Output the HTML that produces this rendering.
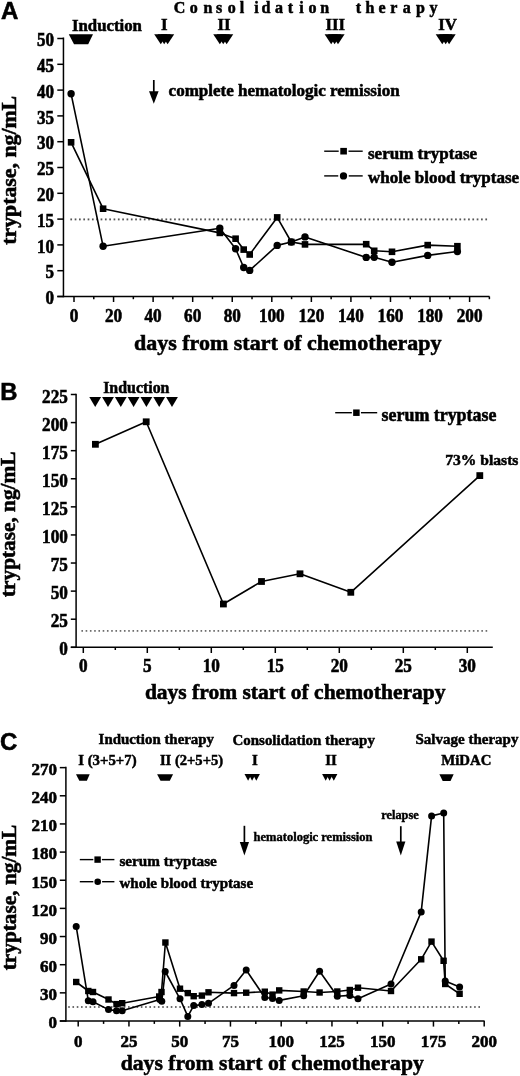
<!DOCTYPE html>
<html><head><meta charset="utf-8"><title>Tryptase figure</title>
<style>
html,body{margin:0;padding:0;background:#fff;}
body{width:520px;height:1076px;overflow:hidden;}
svg{display:block;will-change:transform;}
</style></head>
<body>
<svg width="520" height="1076" viewBox="0 0 520 1076">
<rect x="0" y="0" width="520" height="1076" fill="#fff"/>
<text x="1" y="18.7" font-family='"Liberation Sans", sans-serif' font-weight="bold" font-size="24" text-anchor="start" stroke="#000" stroke-width="0.55" >A</text>
<text x="72" y="30.8" font-family='"Liberation Serif", serif' font-weight="bold" font-size="16.8" text-anchor="start" stroke="#000" stroke-width="0.54" >Induction</text>
<text x="179.6" y="12.6" font-family='"Liberation Serif", serif' font-weight="bold" font-size="16" text-anchor="middle" stroke="#000" stroke-width="0.52" >C</text>
<text x="193.7" y="12.6" font-family='"Liberation Serif", serif' font-weight="bold" font-size="16" text-anchor="middle" stroke="#000" stroke-width="0.52" >o</text>
<text x="208" y="12.6" font-family='"Liberation Serif", serif' font-weight="bold" font-size="16" text-anchor="middle" stroke="#000" stroke-width="0.52" >n</text>
<text x="219.2" y="12.6" font-family='"Liberation Serif", serif' font-weight="bold" font-size="16" text-anchor="middle" stroke="#000" stroke-width="0.52" >s</text>
<text x="231.8" y="12.6" font-family='"Liberation Serif", serif' font-weight="bold" font-size="16" text-anchor="middle" stroke="#000" stroke-width="0.52" >o</text>
<text x="242" y="12.6" font-family='"Liberation Serif", serif' font-weight="bold" font-size="16" text-anchor="middle" stroke="#000" stroke-width="0.52" >l</text>
<text x="256.4" y="12.6" font-family='"Liberation Serif", serif' font-weight="bold" font-size="16" text-anchor="middle" stroke="#000" stroke-width="0.52" >i</text>
<text x="265.9" y="12.6" font-family='"Liberation Serif", serif' font-weight="bold" font-size="16" text-anchor="middle" stroke="#000" stroke-width="0.52" >d</text>
<text x="278.9" y="12.6" font-family='"Liberation Serif", serif' font-weight="bold" font-size="16" text-anchor="middle" stroke="#000" stroke-width="0.52" >a</text>
<text x="290.5" y="12.6" font-family='"Liberation Serif", serif' font-weight="bold" font-size="16" text-anchor="middle" stroke="#000" stroke-width="0.52" >t</text>
<text x="301.5" y="12.6" font-family='"Liberation Serif", serif' font-weight="bold" font-size="16" text-anchor="middle" stroke="#000" stroke-width="0.52" >i</text>
<text x="312.4" y="12.6" font-family='"Liberation Serif", serif' font-weight="bold" font-size="16" text-anchor="middle" stroke="#000" stroke-width="0.52" >o</text>
<text x="324.6" y="12.6" font-family='"Liberation Serif", serif' font-weight="bold" font-size="16" text-anchor="middle" stroke="#000" stroke-width="0.52" >n</text>
<text x="358.5" y="12.6" font-family='"Liberation Serif", serif' font-weight="bold" font-size="16" text-anchor="middle" stroke="#000" stroke-width="0.52" >t</text>
<text x="370" y="12.6" font-family='"Liberation Serif", serif' font-weight="bold" font-size="16" text-anchor="middle" stroke="#000" stroke-width="0.52" >h</text>
<text x="382" y="12.6" font-family='"Liberation Serif", serif' font-weight="bold" font-size="16" text-anchor="middle" stroke="#000" stroke-width="0.52" >e</text>
<text x="393.9" y="12.6" font-family='"Liberation Serif", serif' font-weight="bold" font-size="16" text-anchor="middle" stroke="#000" stroke-width="0.52" >r</text>
<text x="406.7" y="12.6" font-family='"Liberation Serif", serif' font-weight="bold" font-size="16" text-anchor="middle" stroke="#000" stroke-width="0.52" >a</text>
<text x="420.4" y="12.6" font-family='"Liberation Serif", serif' font-weight="bold" font-size="16" text-anchor="middle" stroke="#000" stroke-width="0.52" >p</text>
<text x="433.5" y="12.6" font-family='"Liberation Serif", serif' font-weight="bold" font-size="16" text-anchor="middle" stroke="#000" stroke-width="0.52" >y</text>
<text x="164.2" y="30.4" font-family='"Liberation Serif", serif' font-weight="bold" font-size="16.8" text-anchor="middle" stroke="#000" stroke-width="0.54" >I</text>
<text x="224" y="30.4" font-family='"Liberation Serif", serif' font-weight="bold" font-size="16.8" text-anchor="middle" stroke="#000" stroke-width="0.54" >II</text>
<text x="335.2" y="30.4" font-family='"Liberation Serif", serif' font-weight="bold" font-size="16.8" text-anchor="middle" stroke="#000" stroke-width="0.54" >III</text>
<text x="447.6" y="30.4" font-family='"Liberation Serif", serif' font-weight="bold" font-size="16.8" text-anchor="middle" stroke="#000" stroke-width="0.54" >IV</text>
<polygon points="68.8,34.2 93,34.2 88.2,44.3 74,44.3" fill="#000"/>
<polygon points="154.2,34.2 167.4,34.2 160.8,44.3" fill="#000"/>
<polygon points="157.6,34.2 170.8,34.2 164.2,44.3" fill="#000"/>
<polygon points="161,34.2 174.2,34.2 167.6,44.3" fill="#000"/>
<polygon points="213.25,34.2 226.45,34.2 219.85,44.3" fill="#000"/>
<polygon points="216.65,34.2 229.85,34.2 223.25,44.3" fill="#000"/>
<polygon points="220.05,34.2 233.25,34.2 226.65,44.3" fill="#000"/>
<polygon points="324.6,34.2 337.8,34.2 331.2,44.3" fill="#000"/>
<polygon points="328,34.2 341.2,34.2 334.6,44.3" fill="#000"/>
<polygon points="331.4,34.2 344.6,34.2 338,44.3" fill="#000"/>
<polygon points="435.7,34.2 448.9,34.2 442.3,44.3" fill="#000"/>
<polygon points="439.1,34.2 452.3,34.2 445.7,44.3" fill="#000"/>
<polygon points="442.5,34.2 455.7,34.2 449.1,44.3" fill="#000"/>
<line x1="63.45" y1="37.55" x2="63.45" y2="297.25" stroke="#000" stroke-width="1.5" />
<line x1="57.3" y1="296.5" x2="63.45" y2="296.5" stroke="#000" stroke-width="1.5" />
<text x="0" y="0" transform="translate(54 304.2) scale(1 1.08)" font-family='"Liberation Serif", serif' font-weight="bold" font-size="17" text-anchor="end" stroke="#000" stroke-width="0.55" >0</text>
<line x1="57.3" y1="270.7" x2="63.45" y2="270.7" stroke="#000" stroke-width="1.5" />
<text x="0" y="0" transform="translate(54 278.4) scale(1 1.08)" font-family='"Liberation Serif", serif' font-weight="bold" font-size="17" text-anchor="end" stroke="#000" stroke-width="0.55" >5</text>
<line x1="57.3" y1="244.9" x2="63.45" y2="244.9" stroke="#000" stroke-width="1.5" />
<text x="0" y="0" transform="translate(54 252.6) scale(1 1.08)" font-family='"Liberation Serif", serif' font-weight="bold" font-size="17" text-anchor="end" stroke="#000" stroke-width="0.55" >10</text>
<line x1="57.3" y1="219.1" x2="63.45" y2="219.1" stroke="#000" stroke-width="1.5" />
<text x="0" y="0" transform="translate(54 226.8) scale(1 1.08)" font-family='"Liberation Serif", serif' font-weight="bold" font-size="17" text-anchor="end" stroke="#000" stroke-width="0.55" >15</text>
<line x1="57.3" y1="193.3" x2="63.45" y2="193.3" stroke="#000" stroke-width="1.5" />
<text x="0" y="0" transform="translate(54 201) scale(1 1.08)" font-family='"Liberation Serif", serif' font-weight="bold" font-size="17" text-anchor="end" stroke="#000" stroke-width="0.55" >20</text>
<line x1="57.3" y1="167.5" x2="63.45" y2="167.5" stroke="#000" stroke-width="1.5" />
<text x="0" y="0" transform="translate(54 175.2) scale(1 1.08)" font-family='"Liberation Serif", serif' font-weight="bold" font-size="17" text-anchor="end" stroke="#000" stroke-width="0.55" >25</text>
<line x1="57.3" y1="141.7" x2="63.45" y2="141.7" stroke="#000" stroke-width="1.5" />
<text x="0" y="0" transform="translate(54 149.4) scale(1 1.08)" font-family='"Liberation Serif", serif' font-weight="bold" font-size="17" text-anchor="end" stroke="#000" stroke-width="0.55" >30</text>
<line x1="57.3" y1="115.9" x2="63.45" y2="115.9" stroke="#000" stroke-width="1.5" />
<text x="0" y="0" transform="translate(54 123.6) scale(1 1.08)" font-family='"Liberation Serif", serif' font-weight="bold" font-size="17" text-anchor="end" stroke="#000" stroke-width="0.55" >35</text>
<line x1="57.3" y1="90.1" x2="63.45" y2="90.1" stroke="#000" stroke-width="1.5" />
<text x="0" y="0" transform="translate(54 97.8) scale(1 1.08)" font-family='"Liberation Serif", serif' font-weight="bold" font-size="17" text-anchor="end" stroke="#000" stroke-width="0.55" >40</text>
<line x1="57.3" y1="64.3" x2="63.45" y2="64.3" stroke="#000" stroke-width="1.5" />
<text x="0" y="0" transform="translate(54 72) scale(1 1.08)" font-family='"Liberation Serif", serif' font-weight="bold" font-size="17" text-anchor="end" stroke="#000" stroke-width="0.55" >45</text>
<line x1="57.3" y1="38.5" x2="63.45" y2="38.5" stroke="#000" stroke-width="1.5" />
<text x="0" y="0" transform="translate(54 46.2) scale(1 1.08)" font-family='"Liberation Serif", serif' font-weight="bold" font-size="17" text-anchor="end" stroke="#000" stroke-width="0.55" >50</text>
<line x1="57.3" y1="296.5" x2="489.5" y2="296.5" stroke="#000" stroke-width="1.5" />
<line x1="74" y1="296.5" x2="74" y2="302" stroke="#000" stroke-width="1.5" />
<line x1="93.78" y1="296.5" x2="93.78" y2="299.2" stroke="#000" stroke-width="1.5" />
<line x1="113.56" y1="296.5" x2="113.56" y2="302" stroke="#000" stroke-width="1.5" />
<line x1="133.34" y1="296.5" x2="133.34" y2="299.2" stroke="#000" stroke-width="1.5" />
<line x1="153.12" y1="296.5" x2="153.12" y2="302" stroke="#000" stroke-width="1.5" />
<line x1="172.9" y1="296.5" x2="172.9" y2="299.2" stroke="#000" stroke-width="1.5" />
<line x1="192.68" y1="296.5" x2="192.68" y2="302" stroke="#000" stroke-width="1.5" />
<line x1="212.46" y1="296.5" x2="212.46" y2="299.2" stroke="#000" stroke-width="1.5" />
<line x1="232.24" y1="296.5" x2="232.24" y2="302" stroke="#000" stroke-width="1.5" />
<line x1="252.02" y1="296.5" x2="252.02" y2="299.2" stroke="#000" stroke-width="1.5" />
<line x1="271.8" y1="296.5" x2="271.8" y2="302" stroke="#000" stroke-width="1.5" />
<line x1="291.58" y1="296.5" x2="291.58" y2="299.2" stroke="#000" stroke-width="1.5" />
<line x1="311.36" y1="296.5" x2="311.36" y2="302" stroke="#000" stroke-width="1.5" />
<line x1="331.14" y1="296.5" x2="331.14" y2="299.2" stroke="#000" stroke-width="1.5" />
<line x1="350.92" y1="296.5" x2="350.92" y2="302" stroke="#000" stroke-width="1.5" />
<line x1="370.7" y1="296.5" x2="370.7" y2="299.2" stroke="#000" stroke-width="1.5" />
<line x1="390.48" y1="296.5" x2="390.48" y2="302" stroke="#000" stroke-width="1.5" />
<line x1="410.26" y1="296.5" x2="410.26" y2="299.2" stroke="#000" stroke-width="1.5" />
<line x1="430.04" y1="296.5" x2="430.04" y2="302" stroke="#000" stroke-width="1.5" />
<line x1="449.82" y1="296.5" x2="449.82" y2="299.2" stroke="#000" stroke-width="1.5" />
<line x1="469.6" y1="296.5" x2="469.6" y2="302" stroke="#000" stroke-width="1.5" />
<line x1="489.38" y1="296.5" x2="489.38" y2="299.2" stroke="#000" stroke-width="1.5" />
<text x="0" y="0" transform="translate(74 322) scale(1 1.05)" font-family='"Liberation Serif", serif' font-weight="bold" font-size="17.2" text-anchor="middle" stroke="#000" stroke-width="0.55" >0</text>
<text x="0" y="0" transform="translate(113.56 322) scale(1 1.05)" font-family='"Liberation Serif", serif' font-weight="bold" font-size="17.2" text-anchor="middle" stroke="#000" stroke-width="0.55" >20</text>
<text x="0" y="0" transform="translate(153.12 322) scale(1 1.05)" font-family='"Liberation Serif", serif' font-weight="bold" font-size="17.2" text-anchor="middle" stroke="#000" stroke-width="0.55" >40</text>
<text x="0" y="0" transform="translate(192.68 322) scale(1 1.05)" font-family='"Liberation Serif", serif' font-weight="bold" font-size="17.2" text-anchor="middle" stroke="#000" stroke-width="0.55" >60</text>
<text x="0" y="0" transform="translate(232.24 322) scale(1 1.05)" font-family='"Liberation Serif", serif' font-weight="bold" font-size="17.2" text-anchor="middle" stroke="#000" stroke-width="0.55" >80</text>
<text x="0" y="0" transform="translate(271.8 322) scale(1 1.05)" font-family='"Liberation Serif", serif' font-weight="bold" font-size="17.2" text-anchor="middle" stroke="#000" stroke-width="0.55" >100</text>
<text x="0" y="0" transform="translate(311.36 322) scale(1 1.05)" font-family='"Liberation Serif", serif' font-weight="bold" font-size="17.2" text-anchor="middle" stroke="#000" stroke-width="0.55" >120</text>
<text x="0" y="0" transform="translate(350.92 322) scale(1 1.05)" font-family='"Liberation Serif", serif' font-weight="bold" font-size="17.2" text-anchor="middle" stroke="#000" stroke-width="0.55" >140</text>
<text x="0" y="0" transform="translate(390.48 322) scale(1 1.05)" font-family='"Liberation Serif", serif' font-weight="bold" font-size="17.2" text-anchor="middle" stroke="#000" stroke-width="0.55" >160</text>
<text x="0" y="0" transform="translate(430.04 322) scale(1 1.05)" font-family='"Liberation Serif", serif' font-weight="bold" font-size="17.2" text-anchor="middle" stroke="#000" stroke-width="0.55" >180</text>
<text x="0" y="0" transform="translate(469.6 322) scale(1 1.05)" font-family='"Liberation Serif", serif' font-weight="bold" font-size="17.2" text-anchor="middle" stroke="#000" stroke-width="0.55" >200</text>
<text x="287.7" y="349.7" font-family='"Liberation Serif", serif' font-weight="bold" font-size="22" text-anchor="middle" stroke="#000" stroke-width="0.55" >days from start of chemotherapy</text>
<text x="15.6" y="170.3" font-family='"Liberation Serif", serif' font-weight="bold" font-size="21.8" text-anchor="middle" stroke="#000" stroke-width="0.55" transform="rotate(-90 15.6 170.3)">tryptase, ng/mL</text>
<rect x="70.35" y="218.45" width="1.7" height="1.9" fill="#555"/>
<rect x="74.67" y="218.45" width="1.7" height="1.9" fill="#555"/>
<rect x="79" y="218.45" width="1.7" height="1.9" fill="#555"/>
<rect x="83.32" y="218.45" width="1.7" height="1.9" fill="#555"/>
<rect x="87.64" y="218.45" width="1.7" height="1.9" fill="#555"/>
<rect x="91.96" y="218.45" width="1.7" height="1.9" fill="#555"/>
<rect x="96.29" y="218.45" width="1.7" height="1.9" fill="#555"/>
<rect x="100.61" y="218.45" width="1.7" height="1.9" fill="#555"/>
<rect x="104.93" y="218.45" width="1.7" height="1.9" fill="#555"/>
<rect x="109.26" y="218.45" width="1.7" height="1.9" fill="#555"/>
<rect x="113.58" y="218.45" width="1.7" height="1.9" fill="#555"/>
<rect x="117.9" y="218.45" width="1.7" height="1.9" fill="#555"/>
<rect x="122.23" y="218.45" width="1.7" height="1.9" fill="#555"/>
<rect x="126.55" y="218.45" width="1.7" height="1.9" fill="#555"/>
<rect x="130.87" y="218.45" width="1.7" height="1.9" fill="#555"/>
<rect x="135.19" y="218.45" width="1.7" height="1.9" fill="#555"/>
<rect x="139.52" y="218.45" width="1.7" height="1.9" fill="#555"/>
<rect x="143.84" y="218.45" width="1.7" height="1.9" fill="#555"/>
<rect x="148.16" y="218.45" width="1.7" height="1.9" fill="#555"/>
<rect x="152.49" y="218.45" width="1.7" height="1.9" fill="#555"/>
<rect x="156.81" y="218.45" width="1.7" height="1.9" fill="#555"/>
<rect x="161.13" y="218.45" width="1.7" height="1.9" fill="#555"/>
<rect x="165.45" y="218.45" width="1.7" height="1.9" fill="#555"/>
<rect x="169.78" y="218.45" width="1.7" height="1.9" fill="#555"/>
<rect x="174.1" y="218.45" width="1.7" height="1.9" fill="#555"/>
<rect x="178.42" y="218.45" width="1.7" height="1.9" fill="#555"/>
<rect x="182.75" y="218.45" width="1.7" height="1.9" fill="#555"/>
<rect x="187.07" y="218.45" width="1.7" height="1.9" fill="#555"/>
<rect x="191.39" y="218.45" width="1.7" height="1.9" fill="#555"/>
<rect x="195.71" y="218.45" width="1.7" height="1.9" fill="#555"/>
<rect x="200.04" y="218.45" width="1.7" height="1.9" fill="#555"/>
<rect x="204.36" y="218.45" width="1.7" height="1.9" fill="#555"/>
<rect x="208.68" y="218.45" width="1.7" height="1.9" fill="#555"/>
<rect x="213.01" y="218.45" width="1.7" height="1.9" fill="#555"/>
<rect x="217.33" y="218.45" width="1.7" height="1.9" fill="#555"/>
<rect x="221.65" y="218.45" width="1.7" height="1.9" fill="#555"/>
<rect x="225.97" y="218.45" width="1.7" height="1.9" fill="#555"/>
<rect x="230.3" y="218.45" width="1.7" height="1.9" fill="#555"/>
<rect x="234.62" y="218.45" width="1.7" height="1.9" fill="#555"/>
<rect x="238.94" y="218.45" width="1.7" height="1.9" fill="#555"/>
<rect x="243.27" y="218.45" width="1.7" height="1.9" fill="#555"/>
<rect x="247.59" y="218.45" width="1.7" height="1.9" fill="#555"/>
<rect x="251.91" y="218.45" width="1.7" height="1.9" fill="#555"/>
<rect x="256.24" y="218.45" width="1.7" height="1.9" fill="#555"/>
<rect x="260.56" y="218.45" width="1.7" height="1.9" fill="#555"/>
<rect x="264.88" y="218.45" width="1.7" height="1.9" fill="#555"/>
<rect x="269.2" y="218.45" width="1.7" height="1.9" fill="#555"/>
<rect x="273.53" y="218.45" width="1.7" height="1.9" fill="#555"/>
<rect x="277.85" y="218.45" width="1.7" height="1.9" fill="#555"/>
<rect x="282.17" y="218.45" width="1.7" height="1.9" fill="#555"/>
<rect x="286.5" y="218.45" width="1.7" height="1.9" fill="#555"/>
<rect x="290.82" y="218.45" width="1.7" height="1.9" fill="#555"/>
<rect x="295.14" y="218.45" width="1.7" height="1.9" fill="#555"/>
<rect x="299.46" y="218.45" width="1.7" height="1.9" fill="#555"/>
<rect x="303.79" y="218.45" width="1.7" height="1.9" fill="#555"/>
<rect x="308.11" y="218.45" width="1.7" height="1.9" fill="#555"/>
<rect x="312.43" y="218.45" width="1.7" height="1.9" fill="#555"/>
<rect x="316.76" y="218.45" width="1.7" height="1.9" fill="#555"/>
<rect x="321.08" y="218.45" width="1.7" height="1.9" fill="#555"/>
<rect x="325.4" y="218.45" width="1.7" height="1.9" fill="#555"/>
<rect x="329.72" y="218.45" width="1.7" height="1.9" fill="#555"/>
<rect x="334.05" y="218.45" width="1.7" height="1.9" fill="#555"/>
<rect x="338.37" y="218.45" width="1.7" height="1.9" fill="#555"/>
<rect x="342.69" y="218.45" width="1.7" height="1.9" fill="#555"/>
<rect x="347.02" y="218.45" width="1.7" height="1.9" fill="#555"/>
<rect x="351.34" y="218.45" width="1.7" height="1.9" fill="#555"/>
<rect x="355.66" y="218.45" width="1.7" height="1.9" fill="#555"/>
<rect x="359.99" y="218.45" width="1.7" height="1.9" fill="#555"/>
<rect x="364.31" y="218.45" width="1.7" height="1.9" fill="#555"/>
<rect x="368.63" y="218.45" width="1.7" height="1.9" fill="#555"/>
<rect x="372.95" y="218.45" width="1.7" height="1.9" fill="#555"/>
<rect x="377.28" y="218.45" width="1.7" height="1.9" fill="#555"/>
<rect x="381.6" y="218.45" width="1.7" height="1.9" fill="#555"/>
<rect x="385.92" y="218.45" width="1.7" height="1.9" fill="#555"/>
<rect x="390.25" y="218.45" width="1.7" height="1.9" fill="#555"/>
<rect x="394.57" y="218.45" width="1.7" height="1.9" fill="#555"/>
<rect x="398.89" y="218.45" width="1.7" height="1.9" fill="#555"/>
<rect x="403.21" y="218.45" width="1.7" height="1.9" fill="#555"/>
<rect x="407.54" y="218.45" width="1.7" height="1.9" fill="#555"/>
<rect x="411.86" y="218.45" width="1.7" height="1.9" fill="#555"/>
<rect x="416.18" y="218.45" width="1.7" height="1.9" fill="#555"/>
<rect x="420.51" y="218.45" width="1.7" height="1.9" fill="#555"/>
<rect x="424.83" y="218.45" width="1.7" height="1.9" fill="#555"/>
<rect x="429.15" y="218.45" width="1.7" height="1.9" fill="#555"/>
<rect x="433.47" y="218.45" width="1.7" height="1.9" fill="#555"/>
<rect x="437.8" y="218.45" width="1.7" height="1.9" fill="#555"/>
<rect x="442.12" y="218.45" width="1.7" height="1.9" fill="#555"/>
<rect x="446.44" y="218.45" width="1.7" height="1.9" fill="#555"/>
<rect x="450.77" y="218.45" width="1.7" height="1.9" fill="#555"/>
<rect x="455.09" y="218.45" width="1.7" height="1.9" fill="#555"/>
<rect x="459.41" y="218.45" width="1.7" height="1.9" fill="#555"/>
<rect x="463.74" y="218.45" width="1.7" height="1.9" fill="#555"/>
<rect x="468.06" y="218.45" width="1.7" height="1.9" fill="#555"/>
<rect x="472.38" y="218.45" width="1.7" height="1.9" fill="#555"/>
<rect x="476.7" y="218.45" width="1.7" height="1.9" fill="#555"/>
<rect x="481.03" y="218.45" width="1.7" height="1.9" fill="#555"/>
<rect x="485.35" y="218.45" width="1.7" height="1.9" fill="#555"/>
<line x1="324.2" y1="151.2" x2="338.7" y2="151.2" stroke="#000" stroke-width="1.4" />
<line x1="348.5" y1="151.2" x2="362.7" y2="151.2" stroke="#000" stroke-width="1.4" />
<rect x="340.3" y="147.9" width="6.6" height="6.6" fill="#000"/>
<text x="368" y="158.8" font-family='"Liberation Serif", serif' font-weight="bold" font-size="17" text-anchor="start" stroke="#000" stroke-width="0.55" >serum tryptase</text>
<line x1="324.2" y1="175.9" x2="338.25" y2="175.9" stroke="#000" stroke-width="1.4" />
<line x1="348.75" y1="175.9" x2="362.7" y2="175.9" stroke="#000" stroke-width="1.4" />
<circle cx="343.5" cy="175.9" r="3.65" fill="#000"/>
<text x="368" y="182.7" font-family='"Liberation Serif", serif' font-weight="bold" font-size="17" text-anchor="start" stroke="#000" stroke-width="0.55" >whole blood tryptase</text>
<line x1="153.8" y1="80" x2="153.8" y2="92.3" stroke="#000" stroke-width="1.7" />
<polygon points="149,91.3 158.6,91.3 153.8,103.8" fill="#000"/>
<text x="168.6" y="95.8" font-family='"Liberation Serif", serif' font-weight="bold" font-size="17" text-anchor="start" stroke="#000" stroke-width="0.55" >complete hematologic remission</text>
<polyline points="71.1,142.3 103.1,208.7 219.8,232.9 235.6,238.7 243.7,249.6 249.7,254.5 277.2,217.4 291.3,242 305,244.4 366.2,244.2 374.2,250.8 392,251.8 427.7,245.1 457.4,246.2" fill="none" stroke="#000" stroke-width="1.6" stroke-linejoin="round"/>
<polyline points="71.1,93.8 103.1,246.3 219.8,228.3 235.6,248.7 243.7,267.5 249.7,270.4 277.2,245.4 291.3,242 305,236.9 366.2,257.4 374.2,257.2 392,262.3 427.7,255.4 457.4,251.5" fill="none" stroke="#000" stroke-width="1.6" stroke-linejoin="round"/>
<circle cx="71.1" cy="93.8" r="3.7" fill="#000"/>
<circle cx="103.1" cy="246.3" r="3.7" fill="#000"/>
<circle cx="219.8" cy="228.3" r="3.7" fill="#000"/>
<circle cx="235.6" cy="248.7" r="3.7" fill="#000"/>
<circle cx="243.7" cy="267.5" r="3.7" fill="#000"/>
<circle cx="249.7" cy="270.4" r="3.7" fill="#000"/>
<circle cx="277.2" cy="245.4" r="3.7" fill="#000"/>
<circle cx="291.3" cy="242" r="3.7" fill="#000"/>
<circle cx="305" cy="236.9" r="3.7" fill="#000"/>
<circle cx="366.2" cy="257.4" r="3.7" fill="#000"/>
<circle cx="374.2" cy="257.2" r="3.7" fill="#000"/>
<circle cx="392" cy="262.3" r="3.7" fill="#000"/>
<circle cx="427.7" cy="255.4" r="3.7" fill="#000"/>
<circle cx="457.4" cy="251.5" r="3.7" fill="#000"/>
<rect x="67.8" y="139" width="6.6" height="6.6" fill="#000"/>
<rect x="99.8" y="205.4" width="6.6" height="6.6" fill="#000"/>
<rect x="216.5" y="229.6" width="6.6" height="6.6" fill="#000"/>
<rect x="232.3" y="235.4" width="6.6" height="6.6" fill="#000"/>
<rect x="240.4" y="246.3" width="6.6" height="6.6" fill="#000"/>
<rect x="246.4" y="251.2" width="6.6" height="6.6" fill="#000"/>
<rect x="273.9" y="214.1" width="6.6" height="6.6" fill="#000"/>
<rect x="288" y="238.7" width="6.6" height="6.6" fill="#000"/>
<rect x="301.7" y="241.1" width="6.6" height="6.6" fill="#000"/>
<rect x="362.9" y="240.9" width="6.6" height="6.6" fill="#000"/>
<rect x="370.9" y="247.5" width="6.6" height="6.6" fill="#000"/>
<rect x="388.7" y="248.5" width="6.6" height="6.6" fill="#000"/>
<rect x="424.4" y="241.8" width="6.6" height="6.6" fill="#000"/>
<rect x="454.1" y="242.9" width="6.6" height="6.6" fill="#000"/>
<text x="0.2" y="399.8" font-family='"Liberation Sans", sans-serif' font-weight="bold" font-size="23.8" text-anchor="start" stroke="#000" stroke-width="0.55" >B</text>
<text x="103.2" y="392.8" font-family='"Liberation Serif", serif' font-weight="bold" font-size="15.9" text-anchor="start" stroke="#000" stroke-width="0.51" >Induction</text>
<polygon points="89.3,396.9 101.1,396.9 95.2,407" fill="#000"/>
<polygon points="102.1,396.9 113.9,396.9 108,407" fill="#000"/>
<polygon points="114.9,396.9 126.7,396.9 120.8,407" fill="#000"/>
<polygon points="127.7,396.9 139.5,396.9 133.6,407" fill="#000"/>
<polygon points="140.5,396.9 152.3,396.9 146.4,407" fill="#000"/>
<polygon points="153.3,396.9 165.1,396.9 159.2,407" fill="#000"/>
<polygon points="166.1,396.9 177.9,396.9 172,407" fill="#000"/>
<line x1="76.1" y1="393.85" x2="76.1" y2="648.05" stroke="#000" stroke-width="1.5" />
<line x1="70.8" y1="647.3" x2="76.1" y2="647.3" stroke="#000" stroke-width="1.5" />
<text x="0" y="0" transform="translate(67.9 655.4) scale(1 1.05)" font-family='"Liberation Serif", serif' font-weight="bold" font-size="17.2" text-anchor="end" stroke="#000" stroke-width="0.55" >0</text>
<line x1="70.8" y1="619.21" x2="76.1" y2="619.21" stroke="#000" stroke-width="1.5" />
<text x="0" y="0" transform="translate(67.9 627.31) scale(1 1.05)" font-family='"Liberation Serif", serif' font-weight="bold" font-size="17.2" text-anchor="end" stroke="#000" stroke-width="0.55" >25</text>
<line x1="70.8" y1="591.12" x2="76.1" y2="591.12" stroke="#000" stroke-width="1.5" />
<text x="0" y="0" transform="translate(67.9 599.22) scale(1 1.05)" font-family='"Liberation Serif", serif' font-weight="bold" font-size="17.2" text-anchor="end" stroke="#000" stroke-width="0.55" >50</text>
<line x1="70.8" y1="563.03" x2="76.1" y2="563.03" stroke="#000" stroke-width="1.5" />
<text x="0" y="0" transform="translate(67.9 571.13) scale(1 1.05)" font-family='"Liberation Serif", serif' font-weight="bold" font-size="17.2" text-anchor="end" stroke="#000" stroke-width="0.55" >75</text>
<line x1="70.8" y1="534.94" x2="76.1" y2="534.94" stroke="#000" stroke-width="1.5" />
<text x="0" y="0" transform="translate(67.9 543.04) scale(1 1.05)" font-family='"Liberation Serif", serif' font-weight="bold" font-size="17.2" text-anchor="end" stroke="#000" stroke-width="0.55" >100</text>
<line x1="70.8" y1="506.85" x2="76.1" y2="506.85" stroke="#000" stroke-width="1.5" />
<text x="0" y="0" transform="translate(67.9 514.95) scale(1 1.05)" font-family='"Liberation Serif", serif' font-weight="bold" font-size="17.2" text-anchor="end" stroke="#000" stroke-width="0.55" >125</text>
<line x1="70.8" y1="478.76" x2="76.1" y2="478.76" stroke="#000" stroke-width="1.5" />
<text x="0" y="0" transform="translate(67.9 486.86) scale(1 1.05)" font-family='"Liberation Serif", serif' font-weight="bold" font-size="17.2" text-anchor="end" stroke="#000" stroke-width="0.55" >150</text>
<line x1="70.8" y1="450.67" x2="76.1" y2="450.67" stroke="#000" stroke-width="1.5" />
<text x="0" y="0" transform="translate(67.9 458.77) scale(1 1.05)" font-family='"Liberation Serif", serif' font-weight="bold" font-size="17.2" text-anchor="end" stroke="#000" stroke-width="0.55" >175</text>
<line x1="70.8" y1="422.58" x2="76.1" y2="422.58" stroke="#000" stroke-width="1.5" />
<text x="0" y="0" transform="translate(67.9 430.68) scale(1 1.05)" font-family='"Liberation Serif", serif' font-weight="bold" font-size="17.2" text-anchor="end" stroke="#000" stroke-width="0.55" >200</text>
<line x1="70.8" y1="394.49" x2="76.1" y2="394.49" stroke="#000" stroke-width="1.5" />
<text x="0" y="0" transform="translate(67.9 402.59) scale(1 1.05)" font-family='"Liberation Serif", serif' font-weight="bold" font-size="17.2" text-anchor="end" stroke="#000" stroke-width="0.55" >225</text>
<line x1="70.8" y1="647.3" x2="492.8" y2="647.3" stroke="#000" stroke-width="1.5" />
<line x1="83.3" y1="647.3" x2="83.3" y2="653" stroke="#000" stroke-width="1.5" />
<line x1="115.3" y1="647.3" x2="115.3" y2="650" stroke="#000" stroke-width="1.5" />
<line x1="147.3" y1="647.3" x2="147.3" y2="653" stroke="#000" stroke-width="1.5" />
<line x1="179.3" y1="647.3" x2="179.3" y2="650" stroke="#000" stroke-width="1.5" />
<line x1="211.3" y1="647.3" x2="211.3" y2="653" stroke="#000" stroke-width="1.5" />
<line x1="243.3" y1="647.3" x2="243.3" y2="650" stroke="#000" stroke-width="1.5" />
<line x1="275.3" y1="647.3" x2="275.3" y2="653" stroke="#000" stroke-width="1.5" />
<line x1="307.3" y1="647.3" x2="307.3" y2="650" stroke="#000" stroke-width="1.5" />
<line x1="339.3" y1="647.3" x2="339.3" y2="653" stroke="#000" stroke-width="1.5" />
<line x1="371.3" y1="647.3" x2="371.3" y2="650" stroke="#000" stroke-width="1.5" />
<line x1="403.3" y1="647.3" x2="403.3" y2="653" stroke="#000" stroke-width="1.5" />
<line x1="435.3" y1="647.3" x2="435.3" y2="650" stroke="#000" stroke-width="1.5" />
<line x1="467.3" y1="647.3" x2="467.3" y2="653" stroke="#000" stroke-width="1.5" />
<text x="0" y="0" transform="translate(83.3 672) scale(1 1.05)" font-family='"Liberation Serif", serif' font-weight="bold" font-size="17.2" text-anchor="middle" stroke="#000" stroke-width="0.55" >0</text>
<text x="0" y="0" transform="translate(147.3 672) scale(1 1.05)" font-family='"Liberation Serif", serif' font-weight="bold" font-size="17.2" text-anchor="middle" stroke="#000" stroke-width="0.55" >5</text>
<text x="0" y="0" transform="translate(211.3 672) scale(1 1.05)" font-family='"Liberation Serif", serif' font-weight="bold" font-size="17.2" text-anchor="middle" stroke="#000" stroke-width="0.55" >10</text>
<text x="0" y="0" transform="translate(275.3 672) scale(1 1.05)" font-family='"Liberation Serif", serif' font-weight="bold" font-size="17.2" text-anchor="middle" stroke="#000" stroke-width="0.55" >15</text>
<text x="0" y="0" transform="translate(339.3 672) scale(1 1.05)" font-family='"Liberation Serif", serif' font-weight="bold" font-size="17.2" text-anchor="middle" stroke="#000" stroke-width="0.55" >20</text>
<text x="0" y="0" transform="translate(403.3 672) scale(1 1.05)" font-family='"Liberation Serif", serif' font-weight="bold" font-size="17.2" text-anchor="middle" stroke="#000" stroke-width="0.55" >25</text>
<text x="0" y="0" transform="translate(467.3 672) scale(1 1.05)" font-family='"Liberation Serif", serif' font-weight="bold" font-size="17.2" text-anchor="middle" stroke="#000" stroke-width="0.55" >30</text>
<text x="295.2" y="698.8" font-family='"Liberation Serif", serif' font-weight="bold" font-size="21.5" text-anchor="middle" stroke="#000" stroke-width="0.55" >days from start of chemotherapy</text>
<text x="15.4" y="524.3" font-family='"Liberation Serif", serif' font-weight="bold" font-size="21.3" text-anchor="middle" stroke="#000" stroke-width="0.55" transform="rotate(-90 15.4 524.3)">tryptase, ng/mL</text>
<rect x="81.4" y="630.05" width="1.6" height="1.7" fill="#666"/>
<rect x="85.65" y="630.05" width="1.6" height="1.7" fill="#666"/>
<rect x="89.91" y="630.05" width="1.6" height="1.7" fill="#666"/>
<rect x="94.16" y="630.05" width="1.6" height="1.7" fill="#666"/>
<rect x="98.42" y="630.05" width="1.6" height="1.7" fill="#666"/>
<rect x="102.67" y="630.05" width="1.6" height="1.7" fill="#666"/>
<rect x="106.93" y="630.05" width="1.6" height="1.7" fill="#666"/>
<rect x="111.18" y="630.05" width="1.6" height="1.7" fill="#666"/>
<rect x="115.44" y="630.05" width="1.6" height="1.7" fill="#666"/>
<rect x="119.69" y="630.05" width="1.6" height="1.7" fill="#666"/>
<rect x="123.95" y="630.05" width="1.6" height="1.7" fill="#666"/>
<rect x="128.2" y="630.05" width="1.6" height="1.7" fill="#666"/>
<rect x="132.46" y="630.05" width="1.6" height="1.7" fill="#666"/>
<rect x="136.71" y="630.05" width="1.6" height="1.7" fill="#666"/>
<rect x="140.97" y="630.05" width="1.6" height="1.7" fill="#666"/>
<rect x="145.22" y="630.05" width="1.6" height="1.7" fill="#666"/>
<rect x="149.48" y="630.05" width="1.6" height="1.7" fill="#666"/>
<rect x="153.73" y="630.05" width="1.6" height="1.7" fill="#666"/>
<rect x="157.99" y="630.05" width="1.6" height="1.7" fill="#666"/>
<rect x="162.24" y="630.05" width="1.6" height="1.7" fill="#666"/>
<rect x="166.49" y="630.05" width="1.6" height="1.7" fill="#666"/>
<rect x="170.75" y="630.05" width="1.6" height="1.7" fill="#666"/>
<rect x="175" y="630.05" width="1.6" height="1.7" fill="#666"/>
<rect x="179.26" y="630.05" width="1.6" height="1.7" fill="#666"/>
<rect x="183.51" y="630.05" width="1.6" height="1.7" fill="#666"/>
<rect x="187.77" y="630.05" width="1.6" height="1.7" fill="#666"/>
<rect x="192.02" y="630.05" width="1.6" height="1.7" fill="#666"/>
<rect x="196.28" y="630.05" width="1.6" height="1.7" fill="#666"/>
<rect x="200.53" y="630.05" width="1.6" height="1.7" fill="#666"/>
<rect x="204.79" y="630.05" width="1.6" height="1.7" fill="#666"/>
<rect x="209.04" y="630.05" width="1.6" height="1.7" fill="#666"/>
<rect x="213.3" y="630.05" width="1.6" height="1.7" fill="#666"/>
<rect x="217.55" y="630.05" width="1.6" height="1.7" fill="#666"/>
<rect x="221.81" y="630.05" width="1.6" height="1.7" fill="#666"/>
<rect x="226.06" y="630.05" width="1.6" height="1.7" fill="#666"/>
<rect x="230.32" y="630.05" width="1.6" height="1.7" fill="#666"/>
<rect x="234.57" y="630.05" width="1.6" height="1.7" fill="#666"/>
<rect x="238.83" y="630.05" width="1.6" height="1.7" fill="#666"/>
<rect x="243.08" y="630.05" width="1.6" height="1.7" fill="#666"/>
<rect x="247.33" y="630.05" width="1.6" height="1.7" fill="#666"/>
<rect x="251.59" y="630.05" width="1.6" height="1.7" fill="#666"/>
<rect x="255.84" y="630.05" width="1.6" height="1.7" fill="#666"/>
<rect x="260.1" y="630.05" width="1.6" height="1.7" fill="#666"/>
<rect x="264.35" y="630.05" width="1.6" height="1.7" fill="#666"/>
<rect x="268.61" y="630.05" width="1.6" height="1.7" fill="#666"/>
<rect x="272.86" y="630.05" width="1.6" height="1.7" fill="#666"/>
<rect x="277.12" y="630.05" width="1.6" height="1.7" fill="#666"/>
<rect x="281.37" y="630.05" width="1.6" height="1.7" fill="#666"/>
<rect x="285.63" y="630.05" width="1.6" height="1.7" fill="#666"/>
<rect x="289.88" y="630.05" width="1.6" height="1.7" fill="#666"/>
<rect x="294.14" y="630.05" width="1.6" height="1.7" fill="#666"/>
<rect x="298.39" y="630.05" width="1.6" height="1.7" fill="#666"/>
<rect x="302.65" y="630.05" width="1.6" height="1.7" fill="#666"/>
<rect x="306.9" y="630.05" width="1.6" height="1.7" fill="#666"/>
<rect x="311.16" y="630.05" width="1.6" height="1.7" fill="#666"/>
<rect x="315.41" y="630.05" width="1.6" height="1.7" fill="#666"/>
<rect x="319.67" y="630.05" width="1.6" height="1.7" fill="#666"/>
<rect x="323.92" y="630.05" width="1.6" height="1.7" fill="#666"/>
<rect x="328.17" y="630.05" width="1.6" height="1.7" fill="#666"/>
<rect x="332.43" y="630.05" width="1.6" height="1.7" fill="#666"/>
<rect x="336.68" y="630.05" width="1.6" height="1.7" fill="#666"/>
<rect x="340.94" y="630.05" width="1.6" height="1.7" fill="#666"/>
<rect x="345.19" y="630.05" width="1.6" height="1.7" fill="#666"/>
<rect x="349.45" y="630.05" width="1.6" height="1.7" fill="#666"/>
<rect x="353.7" y="630.05" width="1.6" height="1.7" fill="#666"/>
<rect x="357.96" y="630.05" width="1.6" height="1.7" fill="#666"/>
<rect x="362.21" y="630.05" width="1.6" height="1.7" fill="#666"/>
<rect x="366.47" y="630.05" width="1.6" height="1.7" fill="#666"/>
<rect x="370.72" y="630.05" width="1.6" height="1.7" fill="#666"/>
<rect x="374.98" y="630.05" width="1.6" height="1.7" fill="#666"/>
<rect x="379.23" y="630.05" width="1.6" height="1.7" fill="#666"/>
<rect x="383.49" y="630.05" width="1.6" height="1.7" fill="#666"/>
<rect x="387.74" y="630.05" width="1.6" height="1.7" fill="#666"/>
<rect x="392" y="630.05" width="1.6" height="1.7" fill="#666"/>
<rect x="396.25" y="630.05" width="1.6" height="1.7" fill="#666"/>
<rect x="400.51" y="630.05" width="1.6" height="1.7" fill="#666"/>
<rect x="404.76" y="630.05" width="1.6" height="1.7" fill="#666"/>
<rect x="409.01" y="630.05" width="1.6" height="1.7" fill="#666"/>
<rect x="413.27" y="630.05" width="1.6" height="1.7" fill="#666"/>
<rect x="417.52" y="630.05" width="1.6" height="1.7" fill="#666"/>
<rect x="421.78" y="630.05" width="1.6" height="1.7" fill="#666"/>
<rect x="426.03" y="630.05" width="1.6" height="1.7" fill="#666"/>
<rect x="430.29" y="630.05" width="1.6" height="1.7" fill="#666"/>
<rect x="434.54" y="630.05" width="1.6" height="1.7" fill="#666"/>
<rect x="438.8" y="630.05" width="1.6" height="1.7" fill="#666"/>
<rect x="443.05" y="630.05" width="1.6" height="1.7" fill="#666"/>
<rect x="447.31" y="630.05" width="1.6" height="1.7" fill="#666"/>
<rect x="451.56" y="630.05" width="1.6" height="1.7" fill="#666"/>
<rect x="455.82" y="630.05" width="1.6" height="1.7" fill="#666"/>
<rect x="460.07" y="630.05" width="1.6" height="1.7" fill="#666"/>
<rect x="464.33" y="630.05" width="1.6" height="1.7" fill="#666"/>
<rect x="468.58" y="630.05" width="1.6" height="1.7" fill="#666"/>
<rect x="472.84" y="630.05" width="1.6" height="1.7" fill="#666"/>
<rect x="477.09" y="630.05" width="1.6" height="1.7" fill="#666"/>
<rect x="481.35" y="630.05" width="1.6" height="1.7" fill="#666"/>
<rect x="485.6" y="630.05" width="1.6" height="1.7" fill="#666"/>
<line x1="335.2" y1="412.7" x2="351.85" y2="412.7" stroke="#000" stroke-width="1.4" />
<line x1="360.95" y1="412.7" x2="377.2" y2="412.7" stroke="#000" stroke-width="1.4" />
<rect x="353.15" y="409.45" width="6.5" height="6.5" fill="#000"/>
<text x="381.6" y="420.6" font-family='"Liberation Serif", serif' font-weight="bold" font-size="17.9" text-anchor="start" stroke="#000" stroke-width="0.55" >serum tryptase</text>
<text x="445.2" y="465" font-family='"Liberation Serif", serif' font-weight="bold" font-size="15.6" text-anchor="start" stroke="#000" stroke-width="0.5" >73% blasts</text>
<polyline points="95.4,444.3 146.2,421.8 223.4,604 261.5,581.5 300,573.8 350.8,592.3 479.8,475.6" fill="none" stroke="#000" stroke-width="1.6" stroke-linejoin="round"/>
<rect x="92" y="440.9" width="6.8" height="6.8" fill="#000"/>
<rect x="142.8" y="418.4" width="6.8" height="6.8" fill="#000"/>
<rect x="220" y="600.6" width="6.8" height="6.8" fill="#000"/>
<rect x="258.1" y="578.1" width="6.8" height="6.8" fill="#000"/>
<rect x="296.6" y="570.4" width="6.8" height="6.8" fill="#000"/>
<rect x="347.4" y="588.9" width="6.8" height="6.8" fill="#000"/>
<rect x="476.4" y="472.2" width="6.8" height="6.8" fill="#000"/>
<text x="0" y="750.3" font-family='"Liberation Sans", sans-serif' font-weight="bold" font-size="24" text-anchor="start" stroke="#000" stroke-width="0.55" >C</text>
<text x="98.6" y="744" font-family='"Liberation Serif", serif' font-weight="bold" font-size="14.9" text-anchor="start" stroke="#000" stroke-width="0.48" >Induction therapy</text>
<text x="232.5" y="745" font-family='"Liberation Serif", serif' font-weight="bold" font-size="14.95" text-anchor="start" stroke="#000" stroke-width="0.48" >Consolidation therapy</text>
<text x="415.5" y="744.3" font-family='"Liberation Serif", serif' font-weight="bold" font-size="15" text-anchor="start" stroke="#000" stroke-width="0.49" >Salvage therapy</text>
<text x="78.2" y="764.8" font-family='"Liberation Serif", serif' font-weight="bold" font-size="14.8" text-anchor="start" stroke="#000" stroke-width="0.48" >I (3+5+7)</text>
<text x="159.9" y="764.8" font-family='"Liberation Serif", serif' font-weight="bold" font-size="14.6" text-anchor="start" stroke="#000" stroke-width="0.47" >II (2+5+5)</text>
<text x="255" y="764.9" font-family='"Liberation Serif", serif' font-weight="bold" font-size="14.9" text-anchor="middle" stroke="#000" stroke-width="0.48" >I</text>
<text x="331.1" y="764.9" font-family='"Liberation Serif", serif' font-weight="bold" font-size="14.9" text-anchor="middle" stroke="#000" stroke-width="0.48" >II</text>
<text x="466.3" y="765.3" font-family='"Liberation Serif", serif' font-weight="bold" font-size="14.8" text-anchor="middle" stroke="#000" stroke-width="0.48" >MiDAC</text>
<polygon points="76,774.2 89.7,774.2 86.9,780.8 79.3,780.8" fill="#000"/>
<polygon points="157.1,774.2 173.1,774.2 169.8,780.8 160.5,780.8" fill="#000"/>
<polygon points="244.5,774.1 251.7,774.1 248.1,780.8" fill="#000"/>
<polygon points="248.5,774.1 255.7,774.1 252.1,780.8" fill="#000"/>
<polygon points="252.7,774.1 259.9,774.1 256.3,780.8" fill="#000"/>
<polygon points="322.1,774.1 329.3,774.1 325.7,780.8" fill="#000"/>
<polygon points="326,774.1 333.2,774.1 329.6,780.8" fill="#000"/>
<polygon points="330.2,774.1 337.4,774.1 333.8,780.8" fill="#000"/>
<polygon points="439.4,774.2 453.7,774.2 450.5,780.9 442.7,780.9" fill="#000"/>
<line x1="65.9" y1="766.65" x2="65.9" y2="1021.75" stroke="#000" stroke-width="1.5" />
<line x1="59.8" y1="1021" x2="65.9" y2="1021" stroke="#000" stroke-width="1.5" />
<text x="0" y="0" transform="translate(57 1028.3) scale(1 1.04)" font-family='"Liberation Serif", serif' font-weight="bold" font-size="17" text-anchor="end" stroke="#000" stroke-width="0.55" >0</text>
<line x1="59.8" y1="992.85" x2="65.9" y2="992.85" stroke="#000" stroke-width="1.5" />
<text x="0" y="0" transform="translate(57 1000.15) scale(1 1.04)" font-family='"Liberation Serif", serif' font-weight="bold" font-size="17" text-anchor="end" stroke="#000" stroke-width="0.55" >30</text>
<line x1="59.8" y1="964.7" x2="65.9" y2="964.7" stroke="#000" stroke-width="1.5" />
<text x="0" y="0" transform="translate(57 972) scale(1 1.04)" font-family='"Liberation Serif", serif' font-weight="bold" font-size="17" text-anchor="end" stroke="#000" stroke-width="0.55" >60</text>
<line x1="59.8" y1="936.54" x2="65.9" y2="936.54" stroke="#000" stroke-width="1.5" />
<text x="0" y="0" transform="translate(57 943.84) scale(1 1.04)" font-family='"Liberation Serif", serif' font-weight="bold" font-size="17" text-anchor="end" stroke="#000" stroke-width="0.55" >90</text>
<line x1="59.8" y1="908.39" x2="65.9" y2="908.39" stroke="#000" stroke-width="1.5" />
<text x="0" y="0" transform="translate(57 915.69) scale(1 1.04)" font-family='"Liberation Serif", serif' font-weight="bold" font-size="17" text-anchor="end" stroke="#000" stroke-width="0.55" >120</text>
<line x1="59.8" y1="880.24" x2="65.9" y2="880.24" stroke="#000" stroke-width="1.5" />
<text x="0" y="0" transform="translate(57 887.54) scale(1 1.04)" font-family='"Liberation Serif", serif' font-weight="bold" font-size="17" text-anchor="end" stroke="#000" stroke-width="0.55" >150</text>
<line x1="59.8" y1="852.09" x2="65.9" y2="852.09" stroke="#000" stroke-width="1.5" />
<text x="0" y="0" transform="translate(57 859.39) scale(1 1.04)" font-family='"Liberation Serif", serif' font-weight="bold" font-size="17" text-anchor="end" stroke="#000" stroke-width="0.55" >180</text>
<line x1="59.8" y1="823.94" x2="65.9" y2="823.94" stroke="#000" stroke-width="1.5" />
<text x="0" y="0" transform="translate(57 831.24) scale(1 1.04)" font-family='"Liberation Serif", serif' font-weight="bold" font-size="17" text-anchor="end" stroke="#000" stroke-width="0.55" >210</text>
<line x1="59.8" y1="795.78" x2="65.9" y2="795.78" stroke="#000" stroke-width="1.5" />
<text x="0" y="0" transform="translate(57 803.08) scale(1 1.04)" font-family='"Liberation Serif", serif' font-weight="bold" font-size="17" text-anchor="end" stroke="#000" stroke-width="0.55" >240</text>
<line x1="59.8" y1="767.63" x2="65.9" y2="767.63" stroke="#000" stroke-width="1.5" />
<text x="0" y="0" transform="translate(57 774.93) scale(1 1.04)" font-family='"Liberation Serif", serif' font-weight="bold" font-size="17" text-anchor="end" stroke="#000" stroke-width="0.55" >270</text>
<line x1="59.8" y1="1021" x2="484.6" y2="1021" stroke="#000" stroke-width="1.5" />
<line x1="78.2" y1="1021" x2="78.2" y2="1026.6" stroke="#000" stroke-width="1.5" />
<line x1="103.58" y1="1021" x2="103.58" y2="1023.9" stroke="#000" stroke-width="1.5" />
<line x1="128.95" y1="1021" x2="128.95" y2="1026.6" stroke="#000" stroke-width="1.5" />
<line x1="154.32" y1="1021" x2="154.32" y2="1023.9" stroke="#000" stroke-width="1.5" />
<line x1="179.7" y1="1021" x2="179.7" y2="1026.6" stroke="#000" stroke-width="1.5" />
<line x1="205.07" y1="1021" x2="205.07" y2="1023.9" stroke="#000" stroke-width="1.5" />
<line x1="230.45" y1="1021" x2="230.45" y2="1026.6" stroke="#000" stroke-width="1.5" />
<line x1="255.82" y1="1021" x2="255.82" y2="1023.9" stroke="#000" stroke-width="1.5" />
<line x1="281.2" y1="1021" x2="281.2" y2="1026.6" stroke="#000" stroke-width="1.5" />
<line x1="306.57" y1="1021" x2="306.57" y2="1023.9" stroke="#000" stroke-width="1.5" />
<line x1="331.95" y1="1021" x2="331.95" y2="1026.6" stroke="#000" stroke-width="1.5" />
<line x1="357.32" y1="1021" x2="357.32" y2="1023.9" stroke="#000" stroke-width="1.5" />
<line x1="382.7" y1="1021" x2="382.7" y2="1026.6" stroke="#000" stroke-width="1.5" />
<line x1="408.07" y1="1021" x2="408.07" y2="1023.9" stroke="#000" stroke-width="1.5" />
<line x1="433.45" y1="1021" x2="433.45" y2="1026.6" stroke="#000" stroke-width="1.5" />
<line x1="458.82" y1="1021" x2="458.82" y2="1023.9" stroke="#000" stroke-width="1.5" />
<line x1="484.2" y1="1021" x2="484.2" y2="1026.6" stroke="#000" stroke-width="1.5" />
<text x="0" y="0" transform="translate(78.2 1046.5) scale(1 1.04)" font-family='"Liberation Serif", serif' font-weight="bold" font-size="17" text-anchor="middle" stroke="#000" stroke-width="0.55" >0</text>
<text x="0" y="0" transform="translate(128.95 1046.5) scale(1 1.04)" font-family='"Liberation Serif", serif' font-weight="bold" font-size="17" text-anchor="middle" stroke="#000" stroke-width="0.55" >25</text>
<text x="0" y="0" transform="translate(179.7 1046.5) scale(1 1.04)" font-family='"Liberation Serif", serif' font-weight="bold" font-size="17" text-anchor="middle" stroke="#000" stroke-width="0.55" >50</text>
<text x="0" y="0" transform="translate(230.45 1046.5) scale(1 1.04)" font-family='"Liberation Serif", serif' font-weight="bold" font-size="17" text-anchor="middle" stroke="#000" stroke-width="0.55" >75</text>
<text x="0" y="0" transform="translate(281.2 1046.5) scale(1 1.04)" font-family='"Liberation Serif", serif' font-weight="bold" font-size="17" text-anchor="middle" stroke="#000" stroke-width="0.55" >100</text>
<text x="0" y="0" transform="translate(331.95 1046.5) scale(1 1.04)" font-family='"Liberation Serif", serif' font-weight="bold" font-size="17" text-anchor="middle" stroke="#000" stroke-width="0.55" >125</text>
<text x="0" y="0" transform="translate(382.7 1046.5) scale(1 1.04)" font-family='"Liberation Serif", serif' font-weight="bold" font-size="17" text-anchor="middle" stroke="#000" stroke-width="0.55" >150</text>
<text x="0" y="0" transform="translate(433.45 1046.5) scale(1 1.04)" font-family='"Liberation Serif", serif' font-weight="bold" font-size="17" text-anchor="middle" stroke="#000" stroke-width="0.55" >175</text>
<text x="0" y="0" transform="translate(484.2 1046.5) scale(1 1.04)" font-family='"Liberation Serif", serif' font-weight="bold" font-size="17" text-anchor="middle" stroke="#000" stroke-width="0.55" >200</text>
<text x="272.3" y="1069.6" font-family='"Liberation Serif", serif' font-weight="bold" font-size="21.7" text-anchor="middle" stroke="#000" stroke-width="0.55" >days from start of chemotherapy</text>
<text x="15.5" y="897.5" font-family='"Liberation Serif", serif' font-weight="bold" font-size="21.3" text-anchor="middle" stroke="#000" stroke-width="0.55" transform="rotate(-90 15.5 897.5)">tryptase, ng/mL</text>
<rect x="68.2" y="1006.15" width="1.6" height="1.7" fill="#555"/>
<rect x="72.47" y="1006.15" width="1.6" height="1.7" fill="#555"/>
<rect x="76.75" y="1006.15" width="1.6" height="1.7" fill="#555"/>
<rect x="81.02" y="1006.15" width="1.6" height="1.7" fill="#555"/>
<rect x="85.29" y="1006.15" width="1.6" height="1.7" fill="#555"/>
<rect x="89.56" y="1006.15" width="1.6" height="1.7" fill="#555"/>
<rect x="93.84" y="1006.15" width="1.6" height="1.7" fill="#555"/>
<rect x="98.11" y="1006.15" width="1.6" height="1.7" fill="#555"/>
<rect x="102.38" y="1006.15" width="1.6" height="1.7" fill="#555"/>
<rect x="106.66" y="1006.15" width="1.6" height="1.7" fill="#555"/>
<rect x="110.93" y="1006.15" width="1.6" height="1.7" fill="#555"/>
<rect x="115.2" y="1006.15" width="1.6" height="1.7" fill="#555"/>
<rect x="119.47" y="1006.15" width="1.6" height="1.7" fill="#555"/>
<rect x="123.75" y="1006.15" width="1.6" height="1.7" fill="#555"/>
<rect x="128.02" y="1006.15" width="1.6" height="1.7" fill="#555"/>
<rect x="132.29" y="1006.15" width="1.6" height="1.7" fill="#555"/>
<rect x="136.57" y="1006.15" width="1.6" height="1.7" fill="#555"/>
<rect x="140.84" y="1006.15" width="1.6" height="1.7" fill="#555"/>
<rect x="145.11" y="1006.15" width="1.6" height="1.7" fill="#555"/>
<rect x="149.39" y="1006.15" width="1.6" height="1.7" fill="#555"/>
<rect x="153.66" y="1006.15" width="1.6" height="1.7" fill="#555"/>
<rect x="157.93" y="1006.15" width="1.6" height="1.7" fill="#555"/>
<rect x="162.2" y="1006.15" width="1.6" height="1.7" fill="#555"/>
<rect x="166.48" y="1006.15" width="1.6" height="1.7" fill="#555"/>
<rect x="170.75" y="1006.15" width="1.6" height="1.7" fill="#555"/>
<rect x="175.02" y="1006.15" width="1.6" height="1.7" fill="#555"/>
<rect x="179.3" y="1006.15" width="1.6" height="1.7" fill="#555"/>
<rect x="183.57" y="1006.15" width="1.6" height="1.7" fill="#555"/>
<rect x="187.84" y="1006.15" width="1.6" height="1.7" fill="#555"/>
<rect x="192.11" y="1006.15" width="1.6" height="1.7" fill="#555"/>
<rect x="196.39" y="1006.15" width="1.6" height="1.7" fill="#555"/>
<rect x="200.66" y="1006.15" width="1.6" height="1.7" fill="#555"/>
<rect x="204.93" y="1006.15" width="1.6" height="1.7" fill="#555"/>
<rect x="209.21" y="1006.15" width="1.6" height="1.7" fill="#555"/>
<rect x="213.48" y="1006.15" width="1.6" height="1.7" fill="#555"/>
<rect x="217.75" y="1006.15" width="1.6" height="1.7" fill="#555"/>
<rect x="222.02" y="1006.15" width="1.6" height="1.7" fill="#555"/>
<rect x="226.3" y="1006.15" width="1.6" height="1.7" fill="#555"/>
<rect x="230.57" y="1006.15" width="1.6" height="1.7" fill="#555"/>
<rect x="234.84" y="1006.15" width="1.6" height="1.7" fill="#555"/>
<rect x="239.12" y="1006.15" width="1.6" height="1.7" fill="#555"/>
<rect x="243.39" y="1006.15" width="1.6" height="1.7" fill="#555"/>
<rect x="247.66" y="1006.15" width="1.6" height="1.7" fill="#555"/>
<rect x="251.94" y="1006.15" width="1.6" height="1.7" fill="#555"/>
<rect x="256.21" y="1006.15" width="1.6" height="1.7" fill="#555"/>
<rect x="260.48" y="1006.15" width="1.6" height="1.7" fill="#555"/>
<rect x="264.75" y="1006.15" width="1.6" height="1.7" fill="#555"/>
<rect x="269.03" y="1006.15" width="1.6" height="1.7" fill="#555"/>
<rect x="273.3" y="1006.15" width="1.6" height="1.7" fill="#555"/>
<rect x="277.57" y="1006.15" width="1.6" height="1.7" fill="#555"/>
<rect x="281.85" y="1006.15" width="1.6" height="1.7" fill="#555"/>
<rect x="286.12" y="1006.15" width="1.6" height="1.7" fill="#555"/>
<rect x="290.39" y="1006.15" width="1.6" height="1.7" fill="#555"/>
<rect x="294.66" y="1006.15" width="1.6" height="1.7" fill="#555"/>
<rect x="298.94" y="1006.15" width="1.6" height="1.7" fill="#555"/>
<rect x="303.21" y="1006.15" width="1.6" height="1.7" fill="#555"/>
<rect x="307.48" y="1006.15" width="1.6" height="1.7" fill="#555"/>
<rect x="311.76" y="1006.15" width="1.6" height="1.7" fill="#555"/>
<rect x="316.03" y="1006.15" width="1.6" height="1.7" fill="#555"/>
<rect x="320.3" y="1006.15" width="1.6" height="1.7" fill="#555"/>
<rect x="324.57" y="1006.15" width="1.6" height="1.7" fill="#555"/>
<rect x="328.85" y="1006.15" width="1.6" height="1.7" fill="#555"/>
<rect x="333.12" y="1006.15" width="1.6" height="1.7" fill="#555"/>
<rect x="337.39" y="1006.15" width="1.6" height="1.7" fill="#555"/>
<rect x="341.67" y="1006.15" width="1.6" height="1.7" fill="#555"/>
<rect x="345.94" y="1006.15" width="1.6" height="1.7" fill="#555"/>
<rect x="350.21" y="1006.15" width="1.6" height="1.7" fill="#555"/>
<rect x="354.49" y="1006.15" width="1.6" height="1.7" fill="#555"/>
<rect x="358.76" y="1006.15" width="1.6" height="1.7" fill="#555"/>
<rect x="363.03" y="1006.15" width="1.6" height="1.7" fill="#555"/>
<rect x="367.3" y="1006.15" width="1.6" height="1.7" fill="#555"/>
<rect x="371.58" y="1006.15" width="1.6" height="1.7" fill="#555"/>
<rect x="375.85" y="1006.15" width="1.6" height="1.7" fill="#555"/>
<rect x="380.12" y="1006.15" width="1.6" height="1.7" fill="#555"/>
<rect x="384.4" y="1006.15" width="1.6" height="1.7" fill="#555"/>
<rect x="388.67" y="1006.15" width="1.6" height="1.7" fill="#555"/>
<rect x="392.94" y="1006.15" width="1.6" height="1.7" fill="#555"/>
<rect x="397.21" y="1006.15" width="1.6" height="1.7" fill="#555"/>
<rect x="401.49" y="1006.15" width="1.6" height="1.7" fill="#555"/>
<rect x="405.76" y="1006.15" width="1.6" height="1.7" fill="#555"/>
<rect x="410.03" y="1006.15" width="1.6" height="1.7" fill="#555"/>
<rect x="414.31" y="1006.15" width="1.6" height="1.7" fill="#555"/>
<rect x="418.58" y="1006.15" width="1.6" height="1.7" fill="#555"/>
<rect x="422.85" y="1006.15" width="1.6" height="1.7" fill="#555"/>
<rect x="427.12" y="1006.15" width="1.6" height="1.7" fill="#555"/>
<rect x="431.4" y="1006.15" width="1.6" height="1.7" fill="#555"/>
<rect x="435.67" y="1006.15" width="1.6" height="1.7" fill="#555"/>
<rect x="439.94" y="1006.15" width="1.6" height="1.7" fill="#555"/>
<rect x="444.22" y="1006.15" width="1.6" height="1.7" fill="#555"/>
<rect x="448.49" y="1006.15" width="1.6" height="1.7" fill="#555"/>
<rect x="452.76" y="1006.15" width="1.6" height="1.7" fill="#555"/>
<rect x="457.04" y="1006.15" width="1.6" height="1.7" fill="#555"/>
<rect x="461.31" y="1006.15" width="1.6" height="1.7" fill="#555"/>
<rect x="465.58" y="1006.15" width="1.6" height="1.7" fill="#555"/>
<rect x="469.85" y="1006.15" width="1.6" height="1.7" fill="#555"/>
<rect x="474.13" y="1006.15" width="1.6" height="1.7" fill="#555"/>
<rect x="478.4" y="1006.15" width="1.6" height="1.7" fill="#555"/>
<line x1="79.8" y1="859.6" x2="93.3" y2="859.6" stroke="#000" stroke-width="1.4" />
<line x1="101.9" y1="859.6" x2="114.4" y2="859.6" stroke="#000" stroke-width="1.4" />
<rect x="94.4" y="856.4" width="6.4" height="6.4" fill="#000"/>
<text x="119.4" y="866.4" font-family='"Liberation Serif", serif' font-weight="bold" font-size="15.2" text-anchor="start" stroke="#000" stroke-width="0.49" >serum tryptase</text>
<line x1="79.8" y1="881.7" x2="93.3" y2="881.7" stroke="#000" stroke-width="1.4" />
<line x1="102.1" y1="881.7" x2="114.4" y2="881.7" stroke="#000" stroke-width="1.4" />
<circle cx="97.7" cy="881.7" r="3.3" fill="#000"/>
<text x="119.4" y="888.1" font-family='"Liberation Serif", serif' font-weight="bold" font-size="15.05" text-anchor="start" stroke="#000" stroke-width="0.49" >whole blood tryptase</text>
<line x1="244.4" y1="825.8" x2="244.4" y2="843" stroke="#000" stroke-width="1.7" />
<polygon points="239.8,842 249,842 244.4,855.6" fill="#000"/>
<text x="253.6" y="840.8" font-family='"Liberation Serif", serif' font-weight="bold" font-size="12.5" text-anchor="start" stroke="#000" stroke-width="0.4" >hematologic remission</text>
<line x1="400.8" y1="826.2" x2="400.8" y2="842.5" stroke="#000" stroke-width="1.7" />
<polygon points="396.2,841.5 405.4,841.5 400.8,855.4" fill="#000"/>
<text x="381.3" y="818.5" font-family='"Liberation Serif", serif' font-weight="bold" font-size="12.3" text-anchor="start" stroke="#000" stroke-width="0.4" >relapse</text>
<polyline points="76.2,982 88.3,991 93,992 108.5,999.5 116.5,1004.1 122.2,1003.2 159.2,996.5 161.5,992 165.4,942.5 180,988.7 187.8,993.1 193.7,996.2 201.9,995.6 208.5,992.3 234,993.1 246.2,992.7 264.8,991.7 272.5,994.6 279.2,990.4 303.7,991.5 319.6,992.5 337.3,991.5 349.8,990 358,987.7 391,991 421.2,959.3 431.5,941.6 443.6,960.8 445.2,984 459.6,993.8" fill="none" stroke="#000" stroke-width="1.6" stroke-linejoin="round"/>
<polyline points="76.2,926.4 88.3,1000.7 93,1001.8 108.5,1009.6 116.5,1010.8 122.2,1010.8 159.8,999.5 161.8,1001.2 165.2,971.5 180,998.8 187.8,1016.4 193.7,1005.6 201.9,1004.6 208.5,1003.3 234,985.4 246.2,970 264.8,997.5 272.5,998.5 279.2,1000.4 303.7,995.8 319.6,971.3 337.3,996.3 349.8,995.4 358,998.8 391,984 421.2,911.9 431.6,815.9 443.7,813 445.2,981.1 459.6,986.9" fill="none" stroke="#000" stroke-width="1.6" stroke-linejoin="round"/>
<rect x="73" y="978.8" width="6.4" height="6.4" fill="#000"/>
<rect x="85.1" y="987.8" width="6.4" height="6.4" fill="#000"/>
<rect x="89.8" y="988.8" width="6.4" height="6.4" fill="#000"/>
<rect x="105.3" y="996.3" width="6.4" height="6.4" fill="#000"/>
<rect x="113.3" y="1000.9" width="6.4" height="6.4" fill="#000"/>
<rect x="119" y="1000" width="6.4" height="6.4" fill="#000"/>
<rect x="156" y="993.3" width="6.4" height="6.4" fill="#000"/>
<rect x="158.3" y="988.8" width="6.4" height="6.4" fill="#000"/>
<rect x="162.2" y="939.3" width="6.4" height="6.4" fill="#000"/>
<rect x="176.8" y="985.5" width="6.4" height="6.4" fill="#000"/>
<rect x="184.6" y="989.9" width="6.4" height="6.4" fill="#000"/>
<rect x="190.5" y="993" width="6.4" height="6.4" fill="#000"/>
<rect x="198.7" y="992.4" width="6.4" height="6.4" fill="#000"/>
<rect x="205.3" y="989.1" width="6.4" height="6.4" fill="#000"/>
<rect x="230.8" y="989.9" width="6.4" height="6.4" fill="#000"/>
<rect x="243" y="989.5" width="6.4" height="6.4" fill="#000"/>
<rect x="261.6" y="988.5" width="6.4" height="6.4" fill="#000"/>
<rect x="269.3" y="991.4" width="6.4" height="6.4" fill="#000"/>
<rect x="276" y="987.2" width="6.4" height="6.4" fill="#000"/>
<rect x="300.5" y="988.3" width="6.4" height="6.4" fill="#000"/>
<rect x="316.4" y="989.3" width="6.4" height="6.4" fill="#000"/>
<rect x="334.1" y="988.3" width="6.4" height="6.4" fill="#000"/>
<rect x="346.6" y="986.8" width="6.4" height="6.4" fill="#000"/>
<rect x="354.8" y="984.5" width="6.4" height="6.4" fill="#000"/>
<rect x="387.8" y="987.8" width="6.4" height="6.4" fill="#000"/>
<rect x="418" y="956.1" width="6.4" height="6.4" fill="#000"/>
<rect x="428.3" y="938.4" width="6.4" height="6.4" fill="#000"/>
<rect x="440.4" y="957.6" width="6.4" height="6.4" fill="#000"/>
<rect x="442" y="980.8" width="6.4" height="6.4" fill="#000"/>
<rect x="456.4" y="990.6" width="6.4" height="6.4" fill="#000"/>
<circle cx="76.2" cy="926.4" r="3.5" fill="#000"/>
<circle cx="88.3" cy="1000.7" r="3.5" fill="#000"/>
<circle cx="93" cy="1001.8" r="3.5" fill="#000"/>
<circle cx="108.5" cy="1009.6" r="3.5" fill="#000"/>
<circle cx="116.5" cy="1010.8" r="3.5" fill="#000"/>
<circle cx="122.2" cy="1010.8" r="3.5" fill="#000"/>
<circle cx="159.8" cy="999.5" r="3.5" fill="#000"/>
<circle cx="161.8" cy="1001.2" r="3.5" fill="#000"/>
<circle cx="165.2" cy="971.5" r="3.5" fill="#000"/>
<circle cx="180" cy="998.8" r="3.5" fill="#000"/>
<circle cx="187.8" cy="1016.4" r="3.5" fill="#000"/>
<circle cx="193.7" cy="1005.6" r="3.5" fill="#000"/>
<circle cx="201.9" cy="1004.6" r="3.5" fill="#000"/>
<circle cx="208.5" cy="1003.3" r="3.5" fill="#000"/>
<circle cx="234" cy="985.4" r="3.5" fill="#000"/>
<circle cx="246.2" cy="970" r="3.5" fill="#000"/>
<circle cx="264.8" cy="997.5" r="3.5" fill="#000"/>
<circle cx="272.5" cy="998.5" r="3.5" fill="#000"/>
<circle cx="279.2" cy="1000.4" r="3.5" fill="#000"/>
<circle cx="303.7" cy="995.8" r="3.5" fill="#000"/>
<circle cx="319.6" cy="971.3" r="3.5" fill="#000"/>
<circle cx="337.3" cy="996.3" r="3.5" fill="#000"/>
<circle cx="349.8" cy="995.4" r="3.5" fill="#000"/>
<circle cx="358" cy="998.8" r="3.5" fill="#000"/>
<circle cx="391" cy="984" r="3.5" fill="#000"/>
<circle cx="421.2" cy="911.9" r="3.5" fill="#000"/>
<circle cx="431.6" cy="815.9" r="3.5" fill="#000"/>
<circle cx="443.7" cy="813" r="3.5" fill="#000"/>
<circle cx="445.2" cy="981.1" r="3.5" fill="#000"/>
<circle cx="459.6" cy="986.9" r="3.5" fill="#000"/>
</svg>
</body></html>
